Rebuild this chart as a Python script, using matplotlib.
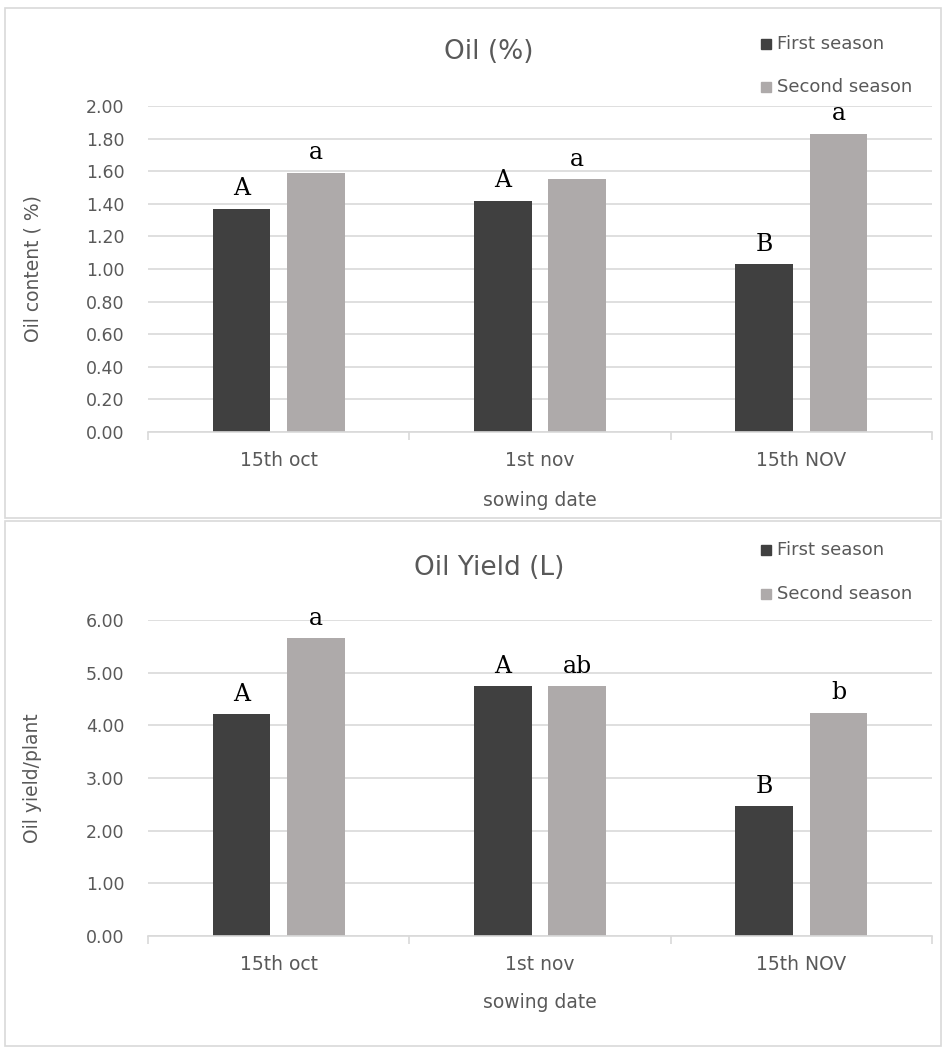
import matplotlib
matplotlib.use("Agg")
import matplotlib.pyplot as plt
from matplotlib.patches import Rectangle
import numpy as np

categories = ["15th oct", "1st nov", "15th NOV"]
series_names = ["First season", "Second season"]

oil_first = [1.37, 1.42, 1.03]
oil_second = [1.59, 1.55, 1.83]
oil_letters_first = ["A", "A", "B"]
oil_letters_second = ["a", "a", "a"]
oil_ticks = [0.00, 0.20, 0.40, 0.60, 0.80, 1.00, 1.20, 1.40, 1.60, 1.80, 2.00]

yield_first = [4.21, 4.74, 2.47]
yield_second = [5.65, 4.74, 4.24]
yield_letters_first = ["A", "A", "B"]
yield_letters_second = ["a", "ab", "b"]
yield_ticks = [0.00, 1.00, 2.00, 3.00, 4.00, 5.00, 6.00]

C_FIRST = "#404040"
C_SECOND = "#AEAAAA"
C_GRID = "#D9D9D9"
C_TEXT = "#595959"

W, H = 947, 1047
fig = plt.figure(figsize=(W / 100, H / 100), dpi=100)
fig.patch.set_facecolor("white")

def fx(px):
    return px / W

def fy(py):
    return 1 - py / H

# panel borders
for (x0, y0, x1, y1) in [(5, 8, 941, 518), (5, 521, 941, 1046)]:
    fig.patches.append(Rectangle((fx(x0), fy(y1)), fx(x1) - fx(x0), fy(y0) - fy(y1),
                                 transform=fig.transFigure, fill=False,
                                 edgecolor=C_GRID, linewidth=1.2))

def panel(top_px, bot_px, first, second, lf, ls, ticks, ylabel, title,
          title_y, leg_y1, leg_y2, xlab_y, xtitle_y):
    left, right = 148, 932
    ax = fig.add_axes([fx(left), fy(bot_px), fx(right) - fx(left), (bot_px - top_px) / H])
    x = np.arange(len(categories))
    bw = 0.22
    off = 0.142
    b1 = ax.bar(x - off, first, bw, color=C_FIRST, zorder=3)
    b2 = ax.bar(x + off, second, bw, color=C_SECOND, zorder=3)
    ax.set_xlim(-0.5, len(categories) - 0.5)
    ax.set_ylim(ticks[0], ticks[-1])
    ax.set_yticks(ticks)
    ax.set_yticklabels([f"{t:.2f}" for t in ticks], fontsize=12.5, color=C_TEXT)
    ax.tick_params(axis="y", length=0, pad=17)
    ax.yaxis.grid(True, color=C_GRID, linewidth=1.2, zorder=0)
    ax.set_axisbelow(True)
    for s in ["left", "right", "top"]:
        ax.spines[s].set_visible(False)
    ax.spines["bottom"].set_color(C_GRID)
    ax.spines["bottom"].set_linewidth(1.2)
    ax.spines["bottom"].set_zorder(4)
    ax.set_xticks(np.arange(-0.5, len(categories), 1.0))
    ax.set_xticklabels([])
    ax.tick_params(axis="x", which="major", length=6, color=C_GRID, width=1.2)
    ax.set_xticks(x, minor=True)
    ax.set_xticklabels(categories, minor=True, fontsize=13.5, color=C_TEXT)
    ax.tick_params(axis="x", which="minor", length=0, pad=14)
    ax.set_ylabel(ylabel, fontsize=13.5, color=C_TEXT)
    ax.yaxis.set_label_coords((42 - left) / (right - left), 0.5)
    for rect, lab in list(zip(b1, lf)) + list(zip(b2, ls)):
        ax.annotate(lab, (rect.get_x() + rect.get_width() / 2, rect.get_height()),
                    xytext=(0, 6), textcoords="offset points", ha="center", va="bottom",
                    fontsize=17, family="DejaVu Serif", color="black")
    fig.text(fx(489), fy(title_y), title, fontsize=19, color=C_TEXT, ha="center", va="center")
    fig.text(fx(540), fy(xtitle_y), "sowing date", fontsize=13.5, color=C_TEXT, ha="center", va="center")
    for yy, col, name in [(leg_y1, C_FIRST, series_names[0]), (leg_y2, C_SECOND, series_names[1])]:
        fig.patches.append(Rectangle((fx(761), fy(yy + 5)), fx(10), 10 / H,
                                     transform=fig.transFigure, color=col))
        fig.text(fx(777), fy(yy), name, fontsize=13, color=C_TEXT, ha="left", va="center")
    return ax

panel(106, 432, oil_first, oil_second, oil_letters_first, oil_letters_second,
      oil_ticks, "Oil content ( %)", "Oil (%)", 52, 44, 87, 464, 500)
panel(620, 936, yield_first, yield_second, yield_letters_first, yield_letters_second,
      yield_ticks, "Oil yield/plant", "Oil Yield (L)", 568, 550, 594, 968, 1003)

fig.savefig("out.png", dpi=100, facecolor="white")
